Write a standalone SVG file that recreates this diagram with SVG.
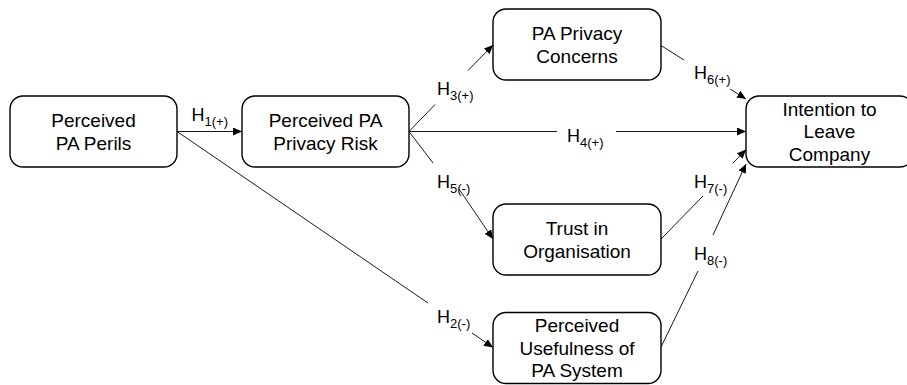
<svg xmlns="http://www.w3.org/2000/svg" width="907" height="385" viewBox="0 0 907 385">
  <style>
    .node rect { fill: #ffffff; stroke: #000000; stroke-width: 1.4; }
    .node text { font-family: "Liberation Sans", Arial, sans-serif; font-size: 19px; fill: #000000; text-anchor: middle; }
    .edge { stroke: #1a1a1a; stroke-width: 1; fill: none; }
    .lbl { font-family: "Liberation Sans", Arial, sans-serif; font-size: 18px; fill: #000000; }
    .sub { font-size: 13px; }
  </style>
  <defs>
    <marker id="arrow" markerUnits="userSpaceOnUse" markerWidth="10" markerHeight="8" refX="9" refY="4" orient="auto">
      <path d="M0,0 L9,4 L0,8 Z" fill="#000000"/>
    </marker>
  </defs>
  <rect width="907" height="385" fill="#ffffff"/>

  <!-- connectors -->
  <g id="connectors">
    <line class="edge" x1="177" y1="131.5" x2="242" y2="131.5" marker-end="url(#arrow)"/>
    <line class="edge" x1="177" y1="131.5" x2="428" y2="303"/>
    <line class="edge" x1="472" y1="333" x2="493" y2="347.5" marker-end="url(#arrow)"/>
    <line class="edge" x1="409" y1="131.5" x2="435" y2="104.5"/>
    <line class="edge" x1="468" y1="70.5" x2="493" y2="45" marker-end="url(#arrow)"/>
    <line class="edge" x1="409" y1="131.5" x2="557" y2="131.5"/>
    <line class="edge" x1="616" y1="131.5" x2="746" y2="131.5" marker-end="url(#arrow)"/>
    <line class="edge" x1="409" y1="131.5" x2="433" y2="163"/>
    <line class="edge" x1="459" y1="189" x2="493" y2="239" marker-end="url(#arrow)"/>
    <line class="edge" x1="661" y1="45.5" x2="684" y2="60"/>
    <line class="edge" x1="730" y1="89" x2="746" y2="99" marker-end="url(#arrow)"/>
    <line class="edge" x1="661" y1="239" x2="703" y2="196"/>
    <line class="edge" x1="733" y1="163" x2="746" y2="149.5" marker-end="url(#arrow)"/>
    <line class="edge" x1="661" y1="347" x2="698" y2="271"/>
    <line class="edge" x1="713" y1="235" x2="746" y2="164" marker-end="url(#arrow)"/>

    <text class="lbl" x="191.5" y="120.5">H<tspan class="sub" dy="5">1(+)</tspan></text>
    <text class="lbl" x="437" y="323">H<tspan class="sub" dy="5">2(-)</tspan></text>
    <text class="lbl" x="437" y="95">H<tspan class="sub" dy="5">3(+)</tspan></text>
    <text class="lbl" x="567" y="141.5">H<tspan class="sub" dy="5">4(+)</tspan></text>
    <text class="lbl" x="437" y="188">H<tspan class="sub" dy="5">5(-)</tspan></text>
    <text class="lbl" x="694" y="79">H<tspan class="sub" dy="5">6(+)</tspan></text>
    <text class="lbl" x="694" y="188">H<tspan class="sub" dy="5">7(-)</tspan></text>
    <text class="lbl" x="694" y="260">H<tspan class="sub" dy="5">8(-)</tspan></text>
  </g>

  <!-- nodes -->
  <g id="perils" class="node">
    <rect x="10" y="96" width="167" height="71" rx="13"/>
    <text x="93.5" y="126.7">Perceived</text>
    <text x="93.5" y="150">PA Perils</text>
  </g>
  <g id="privacy-risk" class="node">
    <rect x="242" y="96" width="167" height="71" rx="13"/>
    <text x="325.5" y="126.7">Perceived PA</text>
    <text x="325.5" y="150">Privacy Risk</text>
  </g>
  <g id="privacy-concerns" class="node">
    <rect x="493" y="9" width="168" height="71" rx="13"/>
    <text x="577" y="40">PA Privacy</text>
    <text x="577" y="63">Concerns</text>
  </g>
  <g id="intention" class="node">
    <rect x="746" y="96" width="167" height="71" rx="13"/>
    <text x="829.5" y="116">Intention to</text>
    <text x="829.5" y="138.3">Leave</text>
    <text x="829.5" y="160.7">Company</text>
  </g>
  <g id="trust" class="node">
    <rect x="493" y="204" width="168" height="71" rx="13"/>
    <text x="577" y="235">Trust in</text>
    <text x="577" y="258.3">Organisation</text>
  </g>
  <g id="usefulness" class="node">
    <rect x="493" y="312.5" width="168" height="71" rx="13"/>
    <text x="577" y="332.3">Perceived</text>
    <text x="577" y="355">Usefulness of</text>
    <text x="577" y="377.3">PA System</text>
  </g>
</svg>
